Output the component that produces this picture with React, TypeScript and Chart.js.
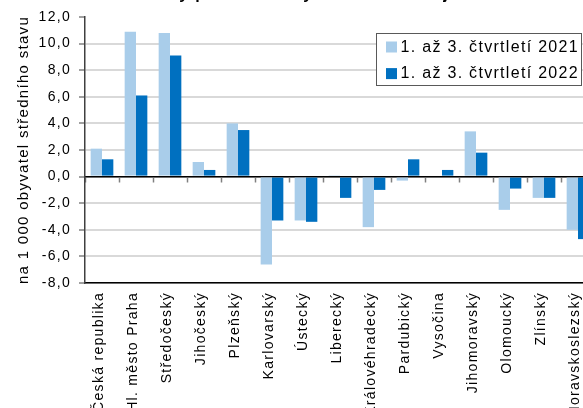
import React, { useEffect, useRef } from 'react';
import { Chart, registerables } from 'chart.js';

Chart.register(...registerables);

const categories = [
  'Česká republika',
  'Hl. město Praha',
  'Středočeský',
  'Jihočeský',
  'Plzeňský',
  'Karlovarský',
  'Ústecký',
  'Liberecký',
  'Královéhradecký',
  'Pardubický',
  'Vysočina',
  'Jihomoravský',
  'Olomoucký',
  'Zlínský',
  'Moravskoslezský',
];
const series2021 = [2.1, 10.9, 10.8, 1.1, 4.0, -6.6, -3.3, 0.1, -3.8, -0.3, 0.0, 3.4, -2.5, -1.6, -4.0];
const series2022 = [1.3, 6.1, 9.1, 0.5, 3.5, -3.3, -3.4, -1.6, -1.0, 1.3, 0.5, 1.8, -0.9, -1.6, -4.7];
const seriesLabels = ['1. až 3. čtvrtletí 2021', '1. až 3. čtvrtletí 2022'];
const yTickValues = [12, 10, 8, 6, 4, 2, 0, -2, -4, -6, -8];
const titleText = 'Celkový přírůstek obyvatelstva v krajích';
const yAxisTitle = 'na 1 000 obyvatel středního stavu';

const TOP = 20; // canvas offset above the visible window
const W = 600;
const H = 470;
const PLOT_RIGHT = 595;
const PLOT_BOTTOM = 283 + TOP;
const LS = '1.3px';
const FONT = '"Liberation Sans", Arial, sans-serif';

const spacingPlugin = {
  id: 'spacing',
  beforeUpdate(chart: any) { chart.ctx.letterSpacing = LS; },
  beforeLayout(chart: any) { chart.ctx.letterSpacing = LS; },
  beforeDraw(chart: any) { chart.ctx.letterSpacing = LS; },
};

const boxLegendPlugin = {
  id: 'boxLegend',
  afterDraw(chart: any) {
    const ctx = chart.ctx;
    ctx.save();
    ctx.letterSpacing = LS;
    const x0 = 376.5;
    const y0 = 33.5 + TOP;
    const w = 205;
    const h = 52;
    ctx.fillStyle = '#ffffff';
    ctx.fillRect(x0, y0, w, h);
    ctx.strokeStyle = '#595959';
    ctx.lineWidth = 1;
    ctx.strokeRect(x0, y0, w, h);
    ctx.font = `16px ${FONT}`;
    ctx.textBaseline = 'alphabetic';
    ctx.textAlign = 'left';
    chart.data.datasets.forEach((ds: any, i: number) => {
      const rowOff = i * 26.6;
      ctx.fillStyle = ds.backgroundColor;
      ctx.fillRect(386, 41.5 + TOP + rowOff, 11, 11);
      ctx.fillStyle = '#000000';
      ctx.fillText(ds.label, 400.5, 51.8 + TOP + rowOff);
    });
    ctx.restore();
  },
};

const fmt = (v: any) => Number(v).toFixed(1).replace('.', ',');

export default function App() {
  const canvasRef = useRef<HTMLCanvasElement | null>(null);

  useEffect(() => {
    if (!canvasRef.current) return;
    Chart.defaults.font.family = FONT;
    const chart = new Chart(canvasRef.current, {
      type: 'bar',
      data: {
        labels: categories,
        datasets: [
          {
            label: seriesLabels[0],
            data: series2021,
            backgroundColor: '#A9CDEA',
            borderWidth: 0,
            categoryPercentage: 0.667,
            barPercentage: 1,
          },
          {
            label: seriesLabels[1],
            data: series2022,
            backgroundColor: '#0070C0',
            borderWidth: 0,
            categoryPercentage: 0.667,
            barPercentage: 1,
          },
        ],
      },
      options: {
        animation: false,
        responsive: true,
        maintainAspectRatio: false,
        layout: { padding: { left: 0, right: W - PLOT_RIGHT, top: 0, bottom: 0 } },
        plugins: {
          legend: { display: false },
          tooltip: { enabled: false },
          title: {
            display: true,
            text: titleText,
            color: '#000',
            font: { size: 16, weight: 'bold' },
            padding: { top: 5, bottom: 12.8 },
          },
        },
        scales: {
          x: {
            afterFit: (s: any) => {
              s.height = H - PLOT_BOTTOM;
              s.paddingLeft = 0;
              s.paddingRight = 0;
            },
            ticks: {
              minRotation: 90,
              maxRotation: 90,
              autoSkip: false,
              padding: 9,
              labelOffset: -3,
              color: '#000',
              font: { size: 14 },
            },
            grid: { display: true, drawOnChartArea: false, drawTicks: false },
            border: { color: '#000', width: 1.5 },
          },
          x2: {
            type: 'category',
            axis: 'x',
            position: { y: 0 },
            offset: true,
            z: 1,
            afterFit: (s: any) => {
              s.height = 0;
              s.paddingLeft = 0;
              s.paddingRight = 0;
            },
            ticks: { display: false },
            grid: {
              offset: true,
              drawOnChartArea: false,
              drawTicks: true,
              tickLength: 5,
              tickColor: '#808080',
              tickWidth: 1.5,
            },
            border: { color: '#000', width: 1.5 },
          },
          y: {
            min: -8,
            max: 12,
            afterBuildTicks: (s: any) => {
              s.ticks = yTickValues.map((value) => ({ value }));
            },
            afterFit: (s: any) => {
              s.width = 85;
              s.paddingTop = 0;
              s.paddingBottom = 0;
            },
            ticks: { padding: 8, color: '#000', font: { size: 14 }, callback: fmt },
            grid: {
              color: (c: any) => (c.tick && c.tick.value === 12 ? 'rgba(0,0,0,0)' : '#d9d9d9'),
              lineWidth: 2,
              tickLength: 6,
              tickColor: '#808080',
              tickWidth: 1.5,
            },
            border: { color: '#404040', width: 1.5 },
            title: {
              display: true,
              text: yAxisTitle,
              color: '#000',
              font: { size: 15 },
              padding: { top: 15, bottom: 0 },
            },
          },
        },
      } as any,
      plugins: [spacingPlugin, boxLegendPlugin],
    });
    return () => chart.destroy();
  }, []);

  return (
    <div
      style={{
        position: 'fixed',
        left: 0,
        top: 0,
        width: 583,
        height: 408,
        overflow: 'hidden',
        background: '#fff',
      }}
    >
      <div style={{ position: 'absolute', left: 0, top: -TOP, width: W, height: H }}>
        <canvas ref={canvasRef} />
      </div>
    </div>
  );
}
